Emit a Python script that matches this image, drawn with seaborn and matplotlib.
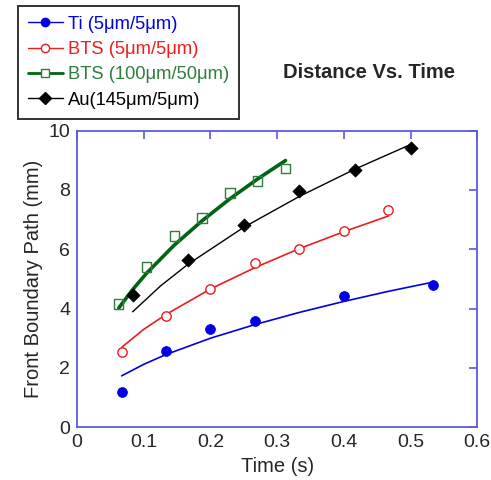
import matplotlib
matplotlib.use("Agg")
import matplotlib.pyplot as plt
from matplotlib.lines import Line2D
import seaborn as sns

# measured points
ti_t = [0.0667, 0.1333, 0.2, 0.2667, 0.4, 0.5333]
ti_y = [1.2, 2.56, 3.32, 3.59, 4.43, 4.79]
bts5_t = [0.0667, 0.1333, 0.2, 0.2667, 0.3333, 0.4, 0.4667]
bts5_y = [2.55, 3.75, 4.65, 5.52, 6.0, 6.6, 7.33]
bts100_t = [0.0625, 0.1042, 0.1458, 0.1875, 0.2292, 0.2708, 0.3125]
bts100_y = [4.15, 5.4, 6.45, 7.05, 7.9, 8.3, 8.72]
au_t = [0.0833, 0.1667, 0.25, 0.3333, 0.4167, 0.5]
au_y = [4.45, 5.65, 6.8, 7.97, 8.68, 9.4]

# fit curves
ti_fit_t = [0.0667, 0.1, 0.1333, 0.2, 0.2667, 0.3333, 0.4, 0.4667, 0.5333]
ti_fit_y = [1.73, 2.12, 2.45, 3.0, 3.46, 3.87, 4.24, 4.58, 4.89]
bts5_fit_t = [0.0667, 0.1, 0.1333, 0.2, 0.2667, 0.3333, 0.4, 0.4667]
bts5_fit_y = [2.69, 3.3, 3.8, 4.66, 5.38, 6.02, 6.59, 7.12]
bts100_fit_t = [0.0625, 0.0833, 0.1042, 0.1458, 0.1875, 0.2292, 0.2708, 0.3125]
bts100_fit_y = [4.02, 4.64, 5.19, 6.14, 6.96, 7.7, 8.37, 8.99]
au_fit_t = [0.0833, 0.125, 0.1667, 0.25, 0.3333, 0.4167, 0.5]
au_fit_y = [3.89, 4.76, 5.5, 6.74, 7.78, 8.7, 9.53]

labels = ["Ti (5\u03bcm/5\u03bcm)", "BTS (5\u03bcm/5\u03bcm)",
          "BTS (100\u03bcm/50\u03bcm)", "Au(145\u03bcm/5\u03bcm)"]

sns.set_style("white")
plt.rcParams['font.family'] = ['Liberation Sans', 'DejaVu Sans']

fig = plt.figure(figsize=(4.91, 4.80), dpi=100)
ax = fig.add_axes([0.157, 0.110, 0.815, 0.618])

blue = "#0000e6"
red = "#ee1c1c"
green = "#006414"
green_m = "#2f7d3c"
axcol = "#5a5ae6"

sns.lineplot(x=ti_fit_t, y=ti_fit_y, ax=ax, color=blue, lw=1.2, sort=False, estimator=None)
sns.lineplot(x=bts5_fit_t, y=bts5_fit_y, ax=ax, color=red, lw=1.2, sort=False, estimator=None)
sns.lineplot(x=bts100_fit_t, y=bts100_fit_y, ax=ax, color=green, lw=2.6, sort=False, estimator=None)
sns.lineplot(x=au_fit_t, y=au_fit_y, ax=ax, color="black", lw=1.0, sort=False, estimator=None)

sns.scatterplot(x=ti_t, y=ti_y, ax=ax, marker="o", s=50, color=blue, edgecolor=blue, zorder=3)
sns.scatterplot(x=bts5_t, y=bts5_y, ax=ax, marker="o", s=45, facecolor="white", edgecolor=red, linewidth=1.0, zorder=3)
sns.scatterplot(x=bts100_t, y=bts100_y, ax=ax, marker="s", s=45, facecolor="none", edgecolor=green_m, linewidth=1.0, zorder=3)
sns.scatterplot(x=au_t, y=au_y, ax=ax, marker="D", s=45, color="black", edgecolor="black", zorder=3)

ax.set_xlim(0, 0.6)
ax.set_ylim(0, 10)
ax.set_xticks([0, 0.1, 0.2, 0.3, 0.4, 0.5, 0.6])
ax.set_xticklabels(["0", "0.1", "0.2", "0.3", "0.4", "0.5", "0.6"])
ax.set_yticks([0, 2, 4, 6, 8, 10])
ax.tick_params(direction="in", length=6, width=1.2, color=axcol, labelsize=14,
               top=True, right=True, pad=5)
for sp in ax.spines.values():
    sp.set_color(axcol)
    sp.set_linewidth(1.3)
ax.set_xlabel("Time (s)", fontsize=14.5, labelpad=4)
ax.set_ylabel("Front Boundary Path (mm)", fontsize=14.5, labelpad=4)

fig.text(0.752, 0.848, "Distance Vs. Time", fontsize=14.5, fontweight="bold", ha="center", va="center")

handles = [
    Line2D([], [], color=blue, lw=1.0, marker="o", ms=6, mfc=blue, mec=blue),
    Line2D([], [], color=red, lw=1.0, marker="o", ms=6, mfc="white", mec=red),
    Line2D([], [], color=green, lw=2.0, marker="s", ms=6, mfc="white", mec=green_m),
    Line2D([], [], color="black", lw=1.0, marker="D", ms=6, mfc="black", mec="black"),
]
leg = fig.legend(handles, labels, loc="upper left", bbox_to_anchor=(0.036, 0.988),
                 fontsize=13.2, frameon=True, fancybox=False, handlelength=1.9,
                 handletextpad=0.3, labelspacing=0.45, borderpad=0.55, borderaxespad=0)
leg.get_frame().set_edgecolor("black")
leg.get_frame().set_linewidth(1.4)
for txt, c in zip(leg.get_texts(), [blue, red, green_m, "black"]):
    txt.set_color(c)

fig.savefig("out.png", dpi=100)
